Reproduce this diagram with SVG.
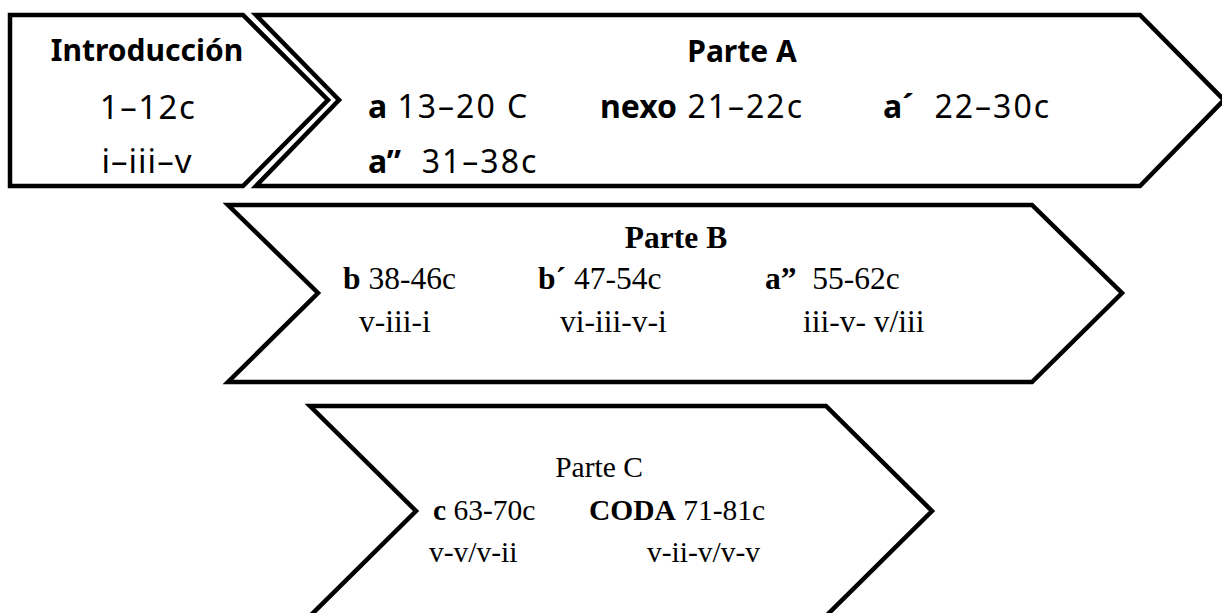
<svg xmlns="http://www.w3.org/2000/svg" width="1222" height="613" viewBox="0 0 1222 613">
<style>
.shape{fill:#fff;stroke:#000;stroke-width:4.5;stroke-linejoin:miter}
.s{font-family:"Noto Sans","DejaVu Sans",sans-serif;fill:#000}
.t{font-family:"Liberation Serif","Times New Roman",serif;fill:#000}
.b{font-weight:bold}
.r{letter-spacing:2px}
</style>
<rect width="1222" height="613" fill="#fff"/>
<g id="intro">
<path class="shape" d="M10,15 L243,15 L328,100 L243,186 L10,186 Z"/>
<text class="s b" x="147" y="61" font-size="30" text-anchor="middle">Introducción</text>
<text class="s" x="148" y="119" font-size="33" letter-spacing="1.5" text-anchor="middle">1–12c</text>
<text class="s" x="147" y="173" font-size="33" letter-spacing="1" text-anchor="middle">i–iii–v</text>
</g>
<g id="parteA">
<path class="shape" d="M256,15 L1140,15 L1224,100 L1140,186 L256,186 L339,100 Z"/>
<text class="s b" x="742" y="62" font-size="30" text-anchor="middle">Parte A</text>
<text class="s" x="368" y="118" font-size="32"><tspan class="b">a</tspan><tspan class="r"> 13–20 C</tspan></text>
<text class="s" x="600" y="118" font-size="32"><tspan class="b">nexo</tspan><tspan class="r"> 21–22c</tspan></text>
<text class="s" x="883" y="118" font-size="32"><tspan class="b">a´</tspan><tspan class="r">&#160;&#160;22–30c</tspan></text>
<text class="s" x="368" y="173" font-size="32"><tspan class="b">a”</tspan><tspan class="r">&#160;&#160;31–38c</tspan></text>
</g>
<g id="parteB">
<path class="shape" d="M228,205 L1032,205 L1122,293 L1032,382 L228,382 L318,293 Z"/>
<text class="t b" x="676" y="248" font-size="31.5" text-anchor="middle">Parte B</text>
<text class="t" x="343" y="289" font-size="31.5"><tspan class="b">b</tspan> 38-46c</text>
<text class="t" x="538" y="289" font-size="31.5"><tspan class="b">b´</tspan> 47-54c</text>
<text class="t" x="765" y="289" font-size="31.5"><tspan class="b">a”</tspan>&#160;&#160;55-62c</text>
<text class="t" x="359" y="332" font-size="31.5">v-iii-i</text>
<text class="t" x="560" y="332" font-size="31.5">vi-iii-v-i</text>
<text class="t" x="803" y="332" font-size="31.5">iii-v- v/iii</text>
</g>
<g id="parteC">
<path class="shape" d="M310,406 L826,406 L932,511 L826,616 L310,616 L416,511 Z"/>
<text class="t" x="599" y="477" font-size="29.5" text-anchor="middle">Parte C</text>
<text class="t" x="433" y="520" font-size="29.5"><tspan class="b">c</tspan> 63-70c</text>
<text class="t" x="589" y="520" font-size="29.5"><tspan class="b">CODA</tspan> 71-81c</text>
<text class="t" x="429" y="562" font-size="29.5">v-v/v-ii</text>
<text class="t" x="647" y="562" font-size="29.5">v-ii-v/v-v</text>
</g>
<g id="connectors"></g>
</svg>
